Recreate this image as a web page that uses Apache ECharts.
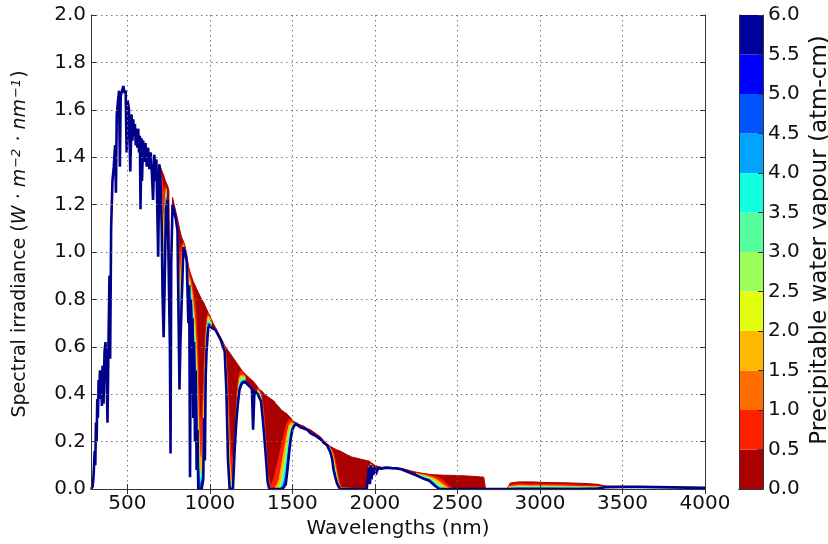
<!DOCTYPE html>
<html>
<head>
<meta charset="utf-8">
<title>Spectral irradiance and precipitable water vapour</title>
<script src="https://cdn.jsdelivr.net/npm/echarts@6/dist/echarts.min.js"></script>
<style>
  html, body { margin: 0; padding: 0; background: #fff; }
  #chart { width: 828px; height: 544px; }
</style>
</head>
<body>
<div id="chart"></div>
<script>
// UV / visible part: no water absorption, every vapour level gives the same curve
const wlUV = [
  280, 290, 296, 302, 306, 310, 314, 318, 322, 326,
  330, 334, 338, 342, 346, 350, 356, 362, 368, 374,
  380, 386, 392, 396, 402, 410, 418, 426, 431, 436,
  444, 450, 455, 460, 468, 476, 484, 490, 496, 502,
  510, 518, 526, 531, 536, 541, 546, 551, 556, 561,
  566, 571, 576, 580, 586, 589, 596, 604, 610, 618,
  626, 634, 642, 649, 656, 664, 670, 676, 687, 694
];
const irrUV = [
  0, 0.01, 0.06, 0.16, 0.1, 0.28, 0.2, 0.38, 0.3, 0.46,
  0.38, 0.5, 0.42, 0.46, 0.35, 0.52, 0.36, 0.58, 0.62, 0.48,
  0.28, 0.62, 0.9, 0.55, 1.1, 1.3, 1.36, 1.45, 1.25, 1.58,
  1.64, 1.68, 1.36, 1.66, 1.68, 1.7, 1.67, 1.68, 1.42, 1.64,
  1.6, 1.34, 1.58, 1.47, 1.56, 1.5, 1.54, 1.45, 1.52, 1.44,
  1.52, 1.42, 1.49, 1.18, 1.48, 1.3, 1.47, 1.38, 1.46, 1.36,
  1.44, 1.35, 1.42, 1.33, 1.22, 1.41, 1.3, 1.39, 0.98, 1.37
];

// near infrared grid (nm) for the driest and the wettest spectrum
const wl = [
  700, 708, 714, 720, 726, 734, 744, 752, 758, 762, 766, 774, 784, 794,
  804, 810, 816, 822, 830, 840, 850,
  860, 870, 875, 880, 885, 890, 895, 900, 905, 910, 915, 920, 925,
  930, 940, 950, 960, 965, 970, 975, 980, 990, 1000,
  1010, 1020, 1035, 1050, 1065,
  1080, 1090, 1100, 1110, 1120, 1130, 1140, 1150, 1160, 1170, 1180, 1190, 1200,
  1215, 1230, 1245, 1255, 1262, 1270, 1280, 1290, 1300, 1310, 1320, 1330, 1340,
  1350, 1360, 1370, 1380, 1390, 1400, 1410, 1420, 1430, 1440, 1450, 1460, 1470,
  1480, 1490, 1500, 1510, 1520, 1530, 1550, 1570, 1590, 1610, 1630, 1650, 1670,
  1690, 1710, 1720, 1730, 1740, 1750, 1760, 1770, 1780, 1790, 1800,
  1830, 1860, 1890, 1920, 1950, 1960, 1965, 1970, 1975, 1980, 1985, 1990,
  2000, 2010, 2020, 2040, 2070, 2100, 2130, 2160, 2190, 2220, 2250,
  2280, 2300, 2330, 2360, 2390, 2420, 2450, 2480, 2520, 2560, 2600, 2640, 2660, 2670,
  2800, 2820, 2870, 2950, 3050, 3150, 3250, 3350, 3400, 3500, 3600, 3700, 3800, 3900, 4000
];

// 0.0 atm-cm (back, dark red envelope)
const irrDry = [
  1.36, 1.345, 1.335, 1.325, 1.31, 1.295, 1.28, 1.26, 0.6, 0.15, 1.0, 1.23, 1.2, 1.17,
  1.14, 1.12, 1.1, 1.08, 1.06, 1.045, 1.025,
  0.99, 0.94, 0.93, 0.915, 0.905, 0.895, 0.885, 0.875, 0.868, 0.86, 0.852, 0.845, 0.838,
  0.83, 0.815, 0.8, 0.79, 0.783, 0.775, 0.768, 0.76, 0.745, 0.73,
  0.715, 0.7, 0.68, 0.66, 0.64,
  0.62, 0.605, 0.595, 0.585, 0.575, 0.565, 0.555, 0.545, 0.535, 0.525, 0.515, 0.505, 0.495,
  0.485, 0.475, 0.465, 0.46, 0.455, 0.45, 0.44, 0.43, 0.42, 0.415, 0.41, 0.4, 0.395,
  0.39, 0.385, 0.38, 0.375, 0.37, 0.36, 0.355, 0.345, 0.335, 0.33, 0.325, 0.32, 0.315,
  0.31, 0.3, 0.29, 0.285, 0.28, 0.28, 0.27, 0.265, 0.255, 0.25, 0.24, 0.23, 0.22,
  0.205, 0.19, 0.185, 0.18, 0.175, 0.172, 0.168, 0.165, 0.162, 0.16, 0.158,
  0.145, 0.135, 0.13, 0.125, 0.12, 0.118, 0.118, 0.116, 0.115, 0.11, 0.108, 0.105,
  0.1, 0.098, 0.095, 0.092, 0.092, 0.091, 0.089, 0.087, 0.082, 0.076, 0.071,
  0.067, 0.065, 0.062, 0.06, 0.059, 0.058, 0.058, 0.057, 0.056, 0.055, 0.053, 0.051, 0.05, 0,
  0, 0.025, 0.03, 0.03, 0.027, 0.026, 0.024, 0.02, 0.012, 0.011, 0.01, 0.009, 0.008, 0.007, 0.006
];

// 6.0 atm-cm (front, navy curve)
const irrWet = [
  1.33, 1.12, 0.8, 0.64, 0.85, 1.18, 1.22, 1.22, 0.6, 0.15, 0.95, 1.2, 1.17, 1.14,
  1.09, 0.75, 0.42, 0.62, 0.8, 1.02, 1.0,
  0.96, 0.7, 0.86, 0.05, 0.8, 0.4, 0.72, 0.3, 0.62, 0.2, 0.5, 0.08, 0.25,
  0, 0, 0, 0.04, 0.3, 0.12, 0.48, 0.58, 0.68, 0.69,
  0.68, 0.68, 0.67, 0.65, 0.63,
  0.6, 0.58, 0.42, 0.12, 0, 0, 0, 0.16, 0.28, 0.36, 0.42, 0.44, 0.45,
  0.45, 0.44, 0.43, 0.42, 0.25, 0.41, 0.405, 0.4, 0.395, 0.37, 0.3, 0.22, 0.13,
  0.03, 0, 0, 0, 0, 0, 0, 0, 0, 0, 0, 0.02, 0.08,
  0.15, 0.21, 0.25, 0.265, 0.275, 0.28, 0.26, 0.255, 0.25, 0.235, 0.228, 0.22, 0.21,
  0.195, 0.185, 0.17, 0.155, 0.13, 0.08, 0.05, 0.025, 0.01, 0, 0,
  0, 0, 0, 0, 0, 0, 0.09, 0.02, 0.1, 0.04, 0.09, 0.06,
  0.085, 0.07, 0.088, 0.086, 0.09, 0.088, 0.087, 0.083, 0.075, 0.066, 0.058,
  0.048, 0.042, 0.035, 0.016, 0, 0, 0, 0, 0, 0, 0, 0, 0, 0,
  0, 0, 0, 0, 0, 0, 0, 0.002, 0.008, 0.009, 0.009, 0.008, 0.007, 0.006, 0.005
];

// water absorption bands: grid for the intermediate vapour levels (null = gap between bands)
const bandWl = [
  704, 712, 720, 728, 736, 760,
  804, 810, 816, 822, 830, 840, 850, 860, 870, 880, 890, 900, 910, 920, 930, 940, 950,
  960, 970, 980, 990, 1000, 1010, 1045,
  1080, 1090, 1100, 1110, 1120, 1130, 1140, 1150, 1160, 1170, 1180, 1190, 1200, 1215, 1250,
  1290, 1300, 1310, 1320, 1330, 1340, 1350, 1360, 1370, 1380, 1390, 1400, 1410, 1420,
  1430, 1440, 1450, 1460, 1470, 1480, 1490, 1500, 1510, 1520, 1530, 1620,
  1710, 1720, 1730, 1740, 1750, 1760, 1770, 1780, 1790, 1800, 1950, 1960, 1965, 1970,
  1975, 1980, 1985, 1990, 2000, 2120,
  2250, 2280, 2300, 2330, 2360, 2390, 2420, 2450, 2480, 2600,
  2810, 2870, 2950, 3050, 3150, 3250, 3350, 3400
];
const irr05 = [
  1.34, 1.3, 1.25, 1.28, 1.285, null,
  1.13, 1.06, 0.98, 1.0, 1.03, 1.04, 1.02, 0.98, 0.93, 0.9, 0.87, 0.83, 0.78, 0.7, 0.5, 0.3, 0.28,
  0.4, 0.6, 0.72, 0.74, 0.725, 0.71, null,
  0.615, 0.6, 0.56, 0.42, 0.25, 0.14, 0.12, 0.2, 0.34, 0.44, 0.49, 0.5, 0.49, 0.48, null,
  0.425, 0.415, 0.4, 0.37, 0.3, 0.2, 0.1, 0.04, 0.01, 0.03, 0.05, 0.08, 0.11, 0.14,
  0.17, 0.2, 0.23, 0.26, 0.28, 0.295, 0.29, 0.285, 0.28, 0.278, 0.28, null,
  0.19, 0.183, 0.175, 0.165, 0.15, 0.12, 0.08, 0.045, 0.02, 0, 0, 0.04, 0.1, 0.06,
  0.11, 0.07, 0.1, 0.09, 0.095, null,
  0.068, 0.064, 0.062, 0.058, 0.054, 0.046, 0.032, 0.012, 0, null,
  0.015, 0.022, 0.02, 0.02, 0.018, 0.016, 0.012, 0.009
];
const irr15 = [
  1.32, 1.2, 1.1, 1.2, 1.27, null,
  1.11, 0.98, 0.85, 0.9, 0.98, 1.03, 1.01, 0.96, 0.9, 0.88, 0.84, 0.78, 0.7, 0.58, 0.32, 0.14, 0.12,
  0.25, 0.52, 0.68, 0.73, 0.72, 0.7, null,
  0.61, 0.595, 0.52, 0.32, 0.12, 0.04, 0.03, 0.1, 0.3, 0.41, 0.47, 0.48, 0.48, 0.475, null,
  0.42, 0.41, 0.39, 0.34, 0.26, 0.16, 0.06, 0.01, 0, 0, 0, 0.01, 0.02, 0.04,
  0.08, 0.12, 0.16, 0.2, 0.24, 0.27, 0.28, 0.28, 0.275, 0.277, 0.28, null,
  0.188, 0.18, 0.17, 0.155, 0.13, 0.095, 0.06, 0.025, 0.005, 0, 0, 0.02, 0.095, 0.04,
  0.105, 0.06, 0.095, 0.08, 0.092, null,
  0.066, 0.06, 0.058, 0.052, 0.045, 0.032, 0.016, 0.003, 0, null,
  0.01, 0.014, 0.013, 0.013, 0.012, 0.01, 0.009, 0.008
];
const irr25 = [
  1.29, 1.08, 0.95, 1.12, 1.26, null,
  1.09, 0.9, 0.72, 0.8, 0.92, 1.02, 1.0, 0.95, 0.88, 0.86, 0.82, 0.74, 0.64, 0.5, 0.22, 0.07, 0.06,
  0.16, 0.46, 0.65, 0.72, 0.71, 0.695, null,
  0.61, 0.59, 0.49, 0.25, 0.06, 0.01, 0.01, 0.06, 0.29, 0.39, 0.455, 0.47, 0.47, 0.47, null,
  0.415, 0.405, 0.385, 0.32, 0.245, 0.15, 0.05, 0, 0, 0, 0, 0, 0, 0.01,
  0.03, 0.06, 0.11, 0.15, 0.2, 0.24, 0.265, 0.27, 0.27, 0.276, 0.28, null,
  0.187, 0.177, 0.165, 0.148, 0.115, 0.08, 0.045, 0.018, 0, 0, 0, 0.01, 0.093, 0.03,
  0.103, 0.05, 0.093, 0.07, 0.09, null,
  0.064, 0.057, 0.054, 0.047, 0.036, 0.02, 0.006, 0, 0, null,
  0.006, 0.01, 0.009, 0.009, 0.008, 0.007, 0.007, 0.008
];
const irr35 = [
  1.26, 0.96, 0.82, 1.05, 1.25, null,
  1.07, 0.85, 0.6, 0.72, 0.87, 1.0, 0.99, 0.94, 0.86, 0.85, 0.8, 0.7, 0.58, 0.44, 0.15, 0.03, 0.03,
  0.1, 0.42, 0.63, 0.71, 0.7, 0.69, null,
  0.605, 0.585, 0.46, 0.2, 0.03, 0, 0, 0.04, 0.28, 0.38, 0.44, 0.46, 0.46, 0.465, null,
  0.41, 0.4, 0.38, 0.31, 0.235, 0.14, 0.04, 0, 0, 0, 0, 0, 0, 0,
  0.01, 0.03, 0.07, 0.11, 0.16, 0.21, 0.25, 0.26, 0.268, 0.276, 0.28, null,
  0.186, 0.175, 0.16, 0.14, 0.1, 0.07, 0.035, 0.014, 0, 0, 0, 0.005, 0.092, 0.025,
  0.102, 0.045, 0.092, 0.065, 0.088, null,
  0.062, 0.054, 0.05, 0.043, 0.028, 0.01, 0, 0, 0, null,
  0.004, 0.006, 0.006, 0.006, 0.005, 0.005, 0.005, 0.008
];
const irr45 = [
  1.23, 0.85, 0.72, 0.96, 1.23, null,
  1.05, 0.8, 0.5, 0.66, 0.83, 0.99, 0.985, 0.93, 0.84, 0.84, 0.78, 0.66, 0.54, 0.38, 0.1, 0.01, 0.01,
  0.06, 0.38, 0.61, 0.7, 0.695, 0.685, null,
  0.6, 0.58, 0.44, 0.16, 0.01, 0, 0, 0.02, 0.28, 0.37, 0.43, 0.45, 0.455, 0.46, null,
  0.405, 0.397, 0.375, 0.305, 0.227, 0.135, 0.035, 0, 0, 0, 0, 0, 0, 0,
  0, 0.01, 0.03, 0.06, 0.12, 0.18, 0.23, 0.255, 0.266, 0.275, 0.28, null,
  0.185, 0.172, 0.157, 0.135, 0.09, 0.06, 0.03, 0.012, 0, 0, 0, 0, 0.091, 0.022,
  0.101, 0.042, 0.091, 0.062, 0.086, null,
  0.06, 0.051, 0.046, 0.039, 0.022, 0.004, 0, 0, 0, null,
  0.002, 0.004, 0.004, 0.004, 0.003, 0.003, 0.003, 0.008
];

const levelData = [irr05, irr15, irr25, irr35, irr45];
const levelVapour = [0.5, 1.5, 2.5, 3.5, 4.5];

const xTicks = [500, 1000, 1500, 2000, 2500, 3000, 3500, 4000];
const vapourTicks = [0, 0.5, 1, 1.5, 2, 2.5, 3, 3.5, 4, 4.5, 5, 5.5, 6];
// reversed jet, one colour per 0.5 atm-cm bin
const binColors = [
  '#aa0000', '#ff2000', '#ff6c00', '#ffb800', '#e2ff12', '#9cff5a',
  '#55ff9e', '#12ffe0', '#00a4ff', '#0055ff', '#0000ff', '#00009c'
];
const wetColor = '#00008a';

const chart = echarts.init(document.getElementById('chart'));

const font = 'DejaVu Sans';
const ink = '#111';
const spine = { show: true, lineStyle: { color: '#333', width: 1 } };
const dotted = { show: true, lineStyle: { color: '#777', width: 1, type: [1.5, 3.5] } };
const pairs = (xs, ys) => xs.map((x, i) => [x, ys[i]]);
const binColor = w => binColors[Math.min(binColors.length - 1, Math.floor(w / 0.5))];

function curve (name, data, color, width, fill, z) {
  return {
    name,
    type: 'line',
    data,
    symbol: 'none',
    silent: true,
    z,
    lineStyle: { color, width, join: 'miter', miterLimit: 3 },
    areaStyle: { color: fill, opacity: 1 },
    animation: false
  };
}

const uv = pairs(wlUV, irrUV);
const series = [curve('0.0', uv.concat(pairs(wl, irrDry)), binColors[0], 1, binColors[0], 2)];
levelData.forEach((vals, i) => {
  const c = binColor(levelVapour[i]);
  series.push(curve(levelVapour[i].toFixed(1), pairs(bandWl, vals), c, 1, c, 3 + i));
});
series.push(curve('6.0', uv.concat(pairs(wl, irrWet)), wetColor, 2.6, '#ffffff', 9));

// colour bar as stacked bars
binColors.forEach((c, i) => {
  series.push({
    type: 'bar',
    xAxisIndex: 2,
    yAxisIndex: 2,
    stack: 'bar',
    barWidth: '100%',
    silent: true,
    animation: false,
    itemStyle: { color: c },
    data: [vapourTicks[i + 1] - vapourTicks[i]]
  });
});

const labelStyle = { fontFamily: font, fontSize: 20, color: ink };

chart.setOption({
  backgroundColor: '#fff',
  animation: false,
  grid: [
    { left: 91, right: 123, top: 15, bottom: 55, outerBoundsMode: 'none' },
    { left: 739, right: 65, top: 15, bottom: 55, outerBoundsMode: 'none' }
  ],
  xAxis: [
    {
      type: 'value',
      gridIndex: 0,
      min: 280,
      max: 4000,
      z: 10,
      axisLine: spine,
      axisTick: { show: true, inside: true, length: 5, customValues: xTicks, lineStyle: { color: '#333' } },
      axisLabel: { ...labelStyle, margin: 5, customValues: xTicks, formatter: v => String(v) },
      splitLine: dotted,
      name: 'Wavelengths (nm)',
      nameLocation: 'middle',
      nameGap: 26,
      nameTextStyle: { ...labelStyle }
    },
    {
      type: 'value',
      gridIndex: 0,
      position: 'top',
      min: 280,
      max: 4000,
      z: 10,
      axisLine: spine,
      axisTick: { show: true, inside: true, length: 5, customValues: xTicks, lineStyle: { color: '#333' } },
      axisLabel: { show: false },
      splitLine: { show: false }
    },
    {
      type: 'category',
      gridIndex: 1,
      data: ['w'],
      z: 10,
      axisLine: spine,
      axisTick: { show: false },
      axisLabel: { show: false }
    },
    {
      type: 'category',
      gridIndex: 1,
      position: 'top',
      data: ['w'],
      z: 10,
      axisLine: spine,
      axisTick: { show: false },
      axisLabel: { show: false }
    }
  ],
  yAxis: [
    {
      type: 'value',
      gridIndex: 0,
      min: 0,
      max: 2,
      interval: 0.2,
      z: 10,
      axisLine: spine,
      axisTick: { show: true, inside: true, length: 5, lineStyle: { color: '#333' } },
      axisLabel: { ...labelStyle, margin: 5, formatter: v => v.toFixed(1) },
      splitLine: dotted,
      name: 'Spectral irradiance ({i|W · m}{s|−2}{i| · nm}{s|−1})',
      nameLocation: 'middle',
      nameRotate: 90,
      nameGap: 60,
      nameTextStyle: {
        ...labelStyle,
        fontSize: 19,
        padding: [0, 0, 0, 16],
        rich: {
          i: { fontFamily: font, fontSize: 19, fontStyle: 'italic', color: ink },
          s: { fontFamily: font, fontSize: 13, fontStyle: 'italic', color: ink, verticalAlign: 'top', padding: [0, 1, 8, 1] }
        }
      }
    },
    {
      type: 'value',
      gridIndex: 0,
      position: 'right',
      min: 0,
      max: 2,
      interval: 0.2,
      z: 10,
      axisLine: spine,
      axisTick: { show: true, inside: true, length: 5, lineStyle: { color: '#333' } },
      axisLabel: { show: false },
      splitLine: { show: false }
    },
    {
      type: 'value',
      gridIndex: 1,
      position: 'right',
      min: 0,
      max: 6,
      interval: 0.5,
      z: 10,
      axisLine: spine,
      axisTick: { show: true, inside: true, length: 5, lineStyle: { color: '#333' } },
      axisLabel: { ...labelStyle, margin: 5, formatter: v => v.toFixed(1) },
      splitLine: { show: false },
      name: 'Precipitable water vapour (atm-cm)',
      nameLocation: 'middle',
      nameRotate: 90,
      nameGap: 46,
      nameTextStyle: { ...labelStyle, fontSize: 23, padding: [0, 0, 0, 24] }
    },
    {
      type: 'value',
      gridIndex: 1,
      position: 'left',
      min: 0,
      max: 6,
      z: 10,
      axisLine: spine,
      axisTick: { show: false },
      axisLabel: { show: false },
      splitLine: { show: false }
    }
  ],
  series
});
</script>
</body>
</html>
